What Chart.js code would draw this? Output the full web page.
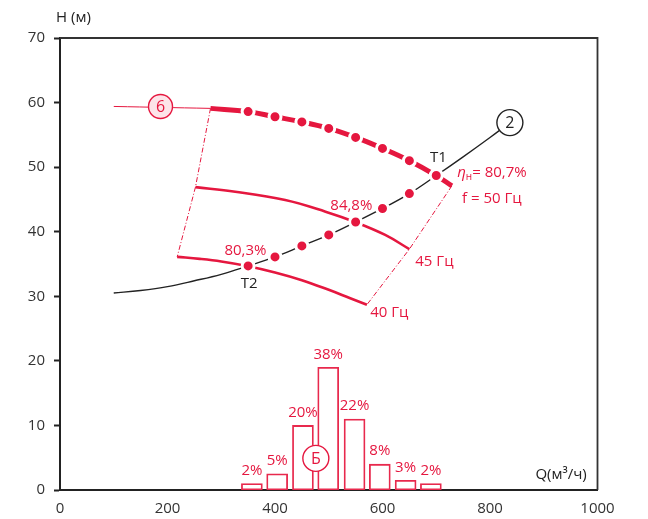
<!DOCTYPE html>
<html>
<head>
<meta charset="utf-8">
<script src="https://cdn.jsdelivr.net/npm/chart.js@4/dist/chart.umd.min.js"></script>
<style>html,body{margin:0;padding:0;background:#fff}</style>
</head>
<body>
<canvas id="c" width="648" height="519"></canvas>
<script>
const RED = '#e5173f';
const INK = '#222';
const FONT = '"Open Sans", "Noto Sans", sans-serif';

// Axis ticks
const xTicks = [0, 200, 400, 600, 800, 1000];
const yTicks = [0, 10, 20, 30, 40, 50, 60, 70];

// System curve (2)
const systemQ = [100, 150, 200, 250, 300, 350, 400, 450, 500, 550, 600, 650, 700, 750, 800, 837];
const systemH = [30.5, 30.9, 31.5, 32.4, 33.4, 34.7, 36.1, 37.8, 39.5, 41.5, 43.6, 45.9, 48.7, 51.6, 54.6, 56.9];

// Pump curve, 50 Hz (6)
const pump50Q = [280, 350, 400, 450, 500, 550, 600, 650, 700, 729];
const pump50H = [59.1, 58.6, 57.8, 57.0, 56.0, 54.6, 52.9, 51.0, 48.7, 47.1];

// Pump curve, 45 Hz
const pump45Q = [252, 326, 419, 494, 549, 605, 650];
const pump45H = [46.9, 46.2, 44.9, 43.1, 41.5, 39.5, 37.3];

// Pump curve, 40 Hz
const pump40Q = [218, 260, 300, 348, 400, 450, 500, 540, 571];
const pump40H = [36.1, 35.8, 35.4, 34.7, 33.7, 32.5, 31.0, 29.7, 28.7];

// Leader from callout 6 to the 50 Hz curve
const leadQ = [100, 280];
const leadH = [59.4, 59.1];

// Curve starts and ends joined by dash-dot lines
const startQ = [280, 252, 218];
const startH = [59.1, 46.9, 36.1];
const endQ = [729, 650, 571];
const endH = [47.1, 37.3, 28.7];

// Operating points
const dotQ = [350, 400, 450, 500, 550, 600, 650, 700, 350, 400, 450, 500, 550, 600, 650];
const dotH = [58.6, 57.8, 57.0, 56.0, 54.6, 52.9, 51.0, 48.7, 34.7, 36.1, 37.8, 39.5, 41.5, 43.6, 45.9];

// Load profile (Б): share of operating time per flow band
const loadQ = [357, 404, 452, 499, 548, 595, 643, 690];
const loadPct = [2, 5, 20, 38, 22, 8, 3, 2];

const pts = (qs, hs) => qs.map((q, i) => ({ x: q, y: hs[i] }));

// Text notes placed in data units
const notes = [
  { t: '80,3%', q: 345, h: 37.0, c: RED, a: 'center' },
  { t: 'T2', q: 352, h: 31.9, c: INK, a: 'center' },
  { t: '84,8%', q: 542, h: 44.1, c: RED, a: 'center' },
  { t: 'T1', q: 704, h: 51.5, c: INK, a: 'center' },
  { t: 'f = 50 Гц', q: 748, h: 45.1, c: RED, a: 'left' },
  { t: '45 Гц', q: 661, h: 35.3, c: RED, a: 'left' },
  { t: '40 Гц', q: 577, h: 27.4, c: RED, a: 'left' },
  { t: 'Q(м³/ч)', q: 980, h: 2.3, c: INK, a: 'right' }
];
const callouts = [
  { t: '6', q: 187, h: 59.4, r: 12, stroke: RED, fill: '#fde4e9', c: RED },
  { t: '2', q: 837, h: 56.9, r: 13, stroke: INK, fill: '#fff', c: INK },
  { t: 'Б', q: 476, h: 4.9, r: 13, stroke: RED, fill: '#fff', c: RED }
];

const overlay = {
  id: 'overlay',
  afterDatasetsDraw(chart) {
    const ctx = chart.ctx, a = chart.chartArea;
    const xs = chart.scales.x, ys = chart.scales.y;
    ctx.save();
    // top and right edges of the frame
    ctx.strokeStyle = '#333';
    ctx.lineWidth = 1.8;
    ctx.beginPath();
    ctx.moveTo(a.left, a.top);
    ctx.lineTo(a.right, a.top);
    ctx.lineTo(a.right, a.bottom);
    ctx.stroke();

    ctx.textBaseline = 'middle';
    ctx.font = '15px ' + FONT;
    // percentage over each bar
    const bars = chart.getDatasetMeta(chart.data.datasets.findIndex(d => d.type === 'bar'));
    ctx.fillStyle = RED;
    ctx.textAlign = 'center';
    bars.data.forEach((el, i) => ctx.fillText(loadPct[i] + '%', el.x, el.y - 13));

    notes.forEach(n => {
      ctx.fillStyle = n.c;
      ctx.textAlign = n.a;
      ctx.fillText(n.t, xs.getPixelForValue(n.q), ys.getPixelForValue(n.h));
    });

    // efficiency note: η with subscript
    let x = xs.getPixelForValue(739), y = ys.getPixelForValue(49.1);
    ctx.fillStyle = RED;
    ctx.textAlign = 'left';
    ctx.font = 'italic 15px ' + FONT;
    ctx.fillText('η', x, y);
    x += ctx.measureText('η').width;
    ctx.font = '10px ' + FONT;
    ctx.fillText('н', x, y + 4);
    x += ctx.measureText('н').width;
    ctx.font = '15px ' + FONT;
    ctx.fillText('= 80,7%', x, y);

    // circled callouts
    callouts.forEach(c => {
      const cx = xs.getPixelForValue(c.q), cy = ys.getPixelForValue(c.h);
      ctx.beginPath();
      ctx.arc(cx, cy, c.r, 0, Math.PI * 2);
      ctx.fillStyle = c.fill;
      ctx.fill();
      ctx.lineWidth = 1.4;
      ctx.strokeStyle = c.stroke;
      ctx.stroke();
      ctx.fillStyle = c.c;
      ctx.textAlign = 'center';
      ctx.font = '16px ' + FONT;
      ctx.fillText(c.t, cx, cy + 1);
    });

    // axis title
    ctx.fillStyle = INK;
    ctx.textAlign = 'left';
    ctx.font = '15px ' + FONT;
    ctx.fillText('H (м)', a.left - 4, a.top - 20);
    ctx.restore();
  }
};

const curve = (data, color, width, order, extra) => Object.assign({
  type: 'line', data, borderColor: color, borderWidth: width, pointRadius: 0,
  tension: 0.4, fill: false, order
}, extra || {});

new Chart(document.getElementById('c'), {
  type: 'line',
  data: {
    datasets: [
      {
        type: 'line', data: pts(dotQ, dotH), showLine: false, order: 0,
        pointRadius: 6, pointBackgroundColor: RED, pointBorderColor: '#fff', pointBorderWidth: 3
      },
      curve(pts(pump50Q, pump50H), RED, 5, 1, { borderCapStyle: 'butt' }),
      curve(pts(pump45Q, pump45H), RED, 2.6, 2),
      curve(pts(pump40Q, pump40H), RED, 2.6, 3),
      curve(pts(systemQ, systemH), INK, 1.4, 4),
      curve(pts(leadQ, leadH), RED, 1, 5),
      curve(pts(startQ, startH), RED, 1, 6, { borderDash: [5, 2, 1, 2], tension: 0 }),
      curve(pts(endQ, endH), RED, 1, 6, { borderDash: [5, 2, 1, 2], tension: 0 }),
      {
        type: 'bar', data: loadQ.map((q, i) => ({ x: q, y: loadPct[i] })), yAxisID: 'y2', order: 8,
        barThickness: 21, backgroundColor: '#fff', borderColor: '#e8294d', borderWidth: 1.8,
        borderSkipped: false, grouped: false
      }
    ]
  },
  options: {
    responsive: false,
    animation: false,
    events: [],
    layout: { padding: { top: 38, right: 50.5, left: 0, bottom: 0 } },
    plugins: { legend: { display: false }, tooltip: { enabled: false } },
    scales: {
      x: {
        type: 'linear', min: 0, max: 1000, offset: false,
        afterBuildTicks: s => { s.ticks = xTicks.map(v => ({ value: v })); },
        afterFit: s => { s.height = 29; },
        ticks: { padding: 10, color: '#333', font: { size: 15, family: FONT }, callback: v => String(v) },
        grid: { drawOnChartArea: false, drawTicks: false },
        border: { color: INK, width: 2 }
      },
      y: {
        type: 'linear', min: 0, max: 70,
        afterBuildTicks: s => { s.ticks = yTicks.map(v => ({ value: v })); },
        afterFit: s => { s.width = 60; },
        ticks: { padding: 9, color: '#333', font: { size: 15, family: FONT }, callback: v => String(v) },
        grid: { drawOnChartArea: false, drawTicks: true, tickLength: 6, color: INK, tickWidth: 2 },
        border: { color: INK, width: 2 }
      },
      y2: { type: 'linear', display: false, min: 0, max: 140 }
    }
  },
  plugins: [overlay]
});
</script>
</body>
</html>
